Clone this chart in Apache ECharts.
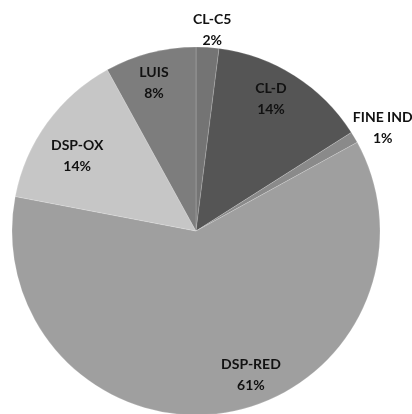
<!DOCTYPE html>
<html>
<head>
<meta charset="utf-8">
<script src="https://cdn.jsdelivr.net/npm/echarts@6/dist/echarts.min.js"></script>
<style>
  html, body { margin: 0; padding: 0; background: #fff; }
  #chart { width: 412px; height: 414px; }
</style>
</head>
<body>
<div id="chart"></div>
<script>
// slices clockwise from 12 o'clock
const names = ['CL-C5', 'CL-D', 'FINE IND', 'DSP-RED', 'DSP-OX', 'LUIS'];
const values = [2, 14, 1, 61, 14, 8];
const colors = ['#747474', '#555555', '#8a8a8a', '#9f9f9f', '#c6c6c6', '#7d7d7d'];
const outsideLabels = ['CL-C5', 'FINE IND'];

let myChart = echarts.init(document.getElementById('chart'));

const center = [196, 231];
const R = 184;
// small nudges so labels land where the original put them
const nudge = {
    'CL-C5': [3, 9],
    'CL-D': [-7, -3],
    'FINE IND': [6, 4],
    'DSP-RED': [31, -7],
    'DSP-OX': [5, 15],
    'LUIS': [-4, 0]
};
const labelStyle = {
    color: '#111',
    fontFamily: 'Lato',
    fontWeight: 'bold',
    fontSize: 14,
    lineHeight: 21,
    formatter: '{b}\n{c}%'
};

let option = {
    animation: false,
    series: [
        {
            // the slices
            type: 'pie',
            center: center,
            radius: [0, R],
            startAngle: 90,
            clockwise: true,
            silent: true,
            label: { show: false },
            labelLine: { show: false },
            itemStyle: { borderColor: 'rgba(255,255,255,0.35)', borderWidth: 0.5 },
            data: names.map((n, i) => ({ name: n, value: values[i], itemStyle: { color: colors[i] } }))
        },
        {
            // labels sitting inside the big slices
            type: 'pie',
            center: center,
            radius: [116, R],
            startAngle: 90,
            clockwise: true,
            silent: true,
            labelLine: { show: false },
            label: Object.assign({ show: true, position: 'inside' }, labelStyle),
            itemStyle: { color: 'rgba(0,0,0,0)' },
            data: names.map((n, i) => ({
                name: n,
                value: values[i],
                label: { show: outsideLabels.indexOf(n) < 0, offset: nudge[n] }
            }))
        },
        {
            // labels for the thin slices, just outside the rim
            type: 'pie',
            center: center,
            radius: [R, 230],
            startAngle: 90,
            clockwise: true,
            silent: true,
            labelLine: { show: false },
            label: Object.assign({ show: true, position: 'inside' }, labelStyle),
            itemStyle: { color: 'rgba(0,0,0,0)' },
            data: names.map((n, i) => ({
                name: n,
                value: values[i],
                label: { show: outsideLabels.indexOf(n) >= 0, offset: nudge[n] }
            }))
        }
    ]
};

option && myChart.setOption(option);
</script>
</body>
</html>
